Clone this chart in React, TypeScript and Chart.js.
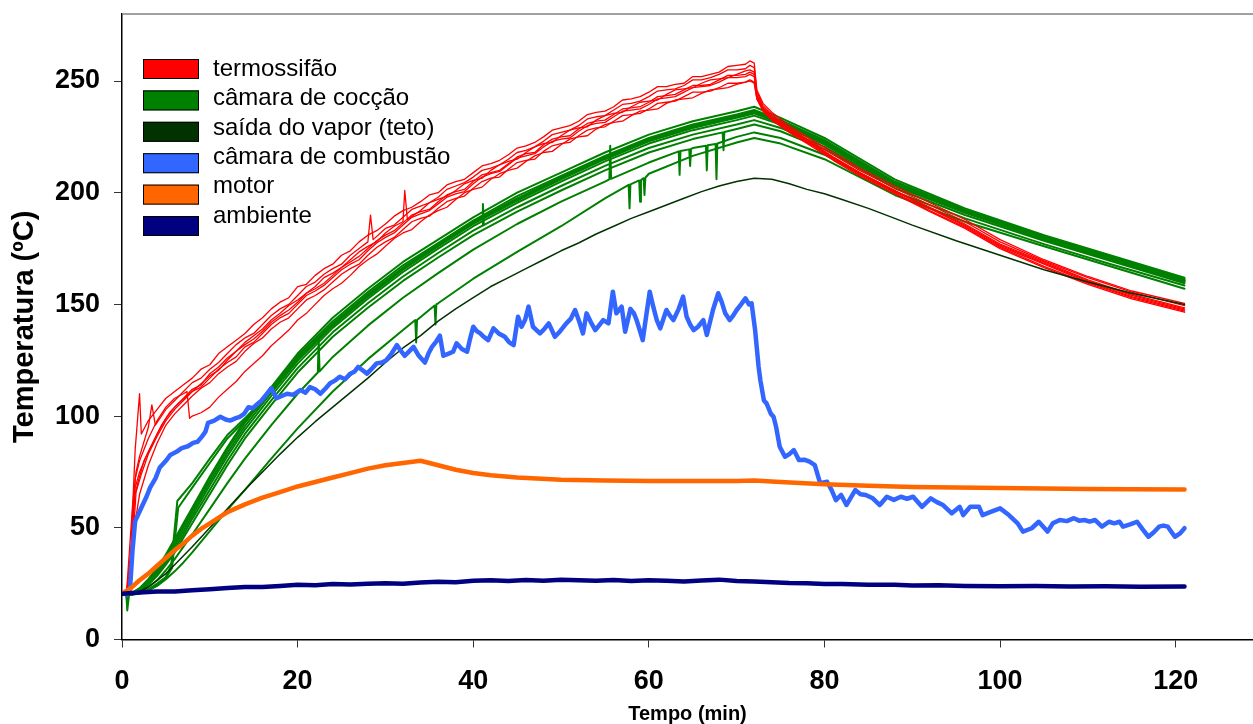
import React, { useEffect, useRef } from "react";
import { Chart, registerables } from "chart.js";

Chart.register(...registerables);

type P = [number, number];

// ---------- axis ticks & labels ----------
const X_TICKS = [0, 20, 40, 60, 80, 100, 120];
const Y_TICKS = [0, 50, 100, 150, 200, 250];
const X_TITLE = "Tempo (min)";
const Y_TITLE = "Temperatura (ºC)";

const LEGEND_LABELS = [
  "termossifão",
  "câmara de cocção",
  "saída do vapor (teto)",
  "câmara de combustão",
  "motor",
  "ambiente",
];
const LEGEND_COLORS = ["#FF0000", "#008000", "#003300", "#3366FF", "#FF6600", "#000080"];

// ---------- termossifão (red) ----------
const TERMO_1: P[] = [[0.5,20],[1,40],[1.5,85],[2,110],[2.2,92],[3,98],[4,103],[5,108],[6,111],[7,114],[8,117],[9,121],[10,123],[11,128],[12,131],[13,134],[14,137],[15,141],[16,144],[17,148],[18,151],[19,153],[20,158],[21,159],[22,163],[23,166],[24,168],[25,172],[26,174],[27,178],[28,181],[29,183],[30,186],[31,189.5],[32,192],[33,193.5],[34,196],[35,199],[36,200],[37,203.5],[38,205],[39,206],[40,209],[41,212],[42,213],[43,214.5],[44,217],[45,220],[46,221],[47,222.5],[48,225],[49,228],[50,229],[51,230],[52,232],[53,235],[54,236],[55,236.5],[56,238.5],[57,241.5],[58,242],[59,243],[60,245],[61,247.5],[62,247.5],[63,248.5],[64,249],[65,252],[66,252],[67,253],[68,254],[69,256.5],[70,257],[71,257.5],[71.5,259],[72,258],[72.3,246],[73,240],[74,236],[76,230],[78,225],[81,218],[84,211],[88,203],[92,195.5],[96,188],[100,179],[105,170],[110,162.5],[115,156],[121,150.5]];
const TERMO_2: P[] = [[0.5,20],[1.2,60],[1.6,75],[2,82],[3,95],[3.4,105],[3.8,96],[5,103],[6,107],[7,111],[8,115],[9,117],[10,121],[11,124],[12,128],[13,132],[14,135],[15,137],[16,141],[17,145],[18,148],[19,150],[20,154],[21,158],[22,160],[23,163.5],[24,166],[25,168],[26,172],[27,175],[28,178],[28.3,190],[28.6,179],[30,184],[31,185.5],[32,189],[33,192.5],[34,194],[35,195.5],[36,198],[37,201.5],[38,203],[39,204.5],[40,207],[41,210],[42,211],[43,212.5],[44,215],[45,218],[46,219],[47,220.5],[48,223],[49,226],[50,227],[51,228],[52,230],[53,233],[54,234],[55,234.5],[56,237],[57,239.5],[58,240],[59,241],[60,243],[61,245.5],[62,246],[63,246.5],[64,248],[65,250.5],[66,250.5],[67,251.5],[68,253],[69,255],[70,255],[71,255.5],[71.5,257],[72,256],[72.3,245],[73,239],[74,235],[76,229],[78,224],[81,217],[84,210],[88,202],[92,194.5],[96,187],[100,178],[105,169.5],[110,162],[115,155.5],[121,149.5]];
const TERMO_3: P[] = [[0.5,20],[1,30],[1.5,68],[2,75],[3,84],[4,92],[5,99],[6,104],[7,108],[8,112],[9,114],[10,119],[11,122],[12,126],[13,129],[14,133],[15,136],[16,139],[17,143],[18,146],[19,149.5],[20,152],[21,155],[22,158],[23,162],[24,164],[25,166.5],[26,170],[27,173.5],[28,176],[29,178],[30,182],[31,185],[32,187],[32.2,201],[32.5,188],[34,192],[35,195.5],[36,197],[37,198.5],[38,201],[39,204],[40,205.5],[41,206.5],[42,210],[43,212.5],[44,214],[45,215],[46,218],[47,220.5],[48,222],[49,222.5],[50,225.5],[51,228],[52,229],[53,229.5],[54,232.5],[55,234.5],[56,235.5],[57,236],[58,238.5],[59,240.5],[60,241],[61,241.5],[62,244],[63,246],[64,246.5],[65,247],[66,249],[67,250.5],[68,251],[69,251.5],[70,253],[71,254.5],[71.5,255],[72,254],[72.3,244],[73,238],[74,234],[76,228.5],[78,223.5],[81,216],[84,209],[88,201],[92,193.5],[96,186],[100,177],[105,169],[110,161],[115,154.5],[121,148.5]];
const TERMO_4: P[] = [[0.5,20],[1,25],[1.3,62],[1.8,70],[2.5,80],[3.5,88],[4.5,96],[5.5,102],[6.5,106],[8,111],[9,113],[10,117],[11,121],[12,124],[13,126.5],[14,131],[15,133],[16,137],[17,141],[18,144],[19,146],[20,150],[21,154],[22,156],[23,158.5],[24,162],[25,165.5],[26,168],[27,170],[28,174],[29,177.5],[30,180],[31,182],[32,185.5],[33,189],[34,190.5],[35,192],[36,195],[37,198],[38,199.5],[39,200.5],[40,204],[41,207],[42,208.5],[43,209.5],[44,212.5],[45,215.5],[46,216.5],[47,217.5],[48,220.5],[49,223],[50,224],[51,224.5],[52,227.5],[53,230],[54,231],[55,231.5],[56,234],[57,236.5],[58,237],[59,237.5],[60,239.5],[61,242],[62,242.5],[63,243],[64,245],[65,247],[66,247.5],[67,248],[68,249.5],[69,251.5],[70,251.5],[71,252],[71.5,253],[72,252],[72.3,243],[73,237.5],[74,233.5],[76,228],[78,223],[81,215.5],[84,208.5],[88,200.5],[92,193],[96,185],[100,176],[105,168],[110,160],[115,153.5],[121,147.5]];
const TERMO_5: P[] = [[0.5,20],[1,22],[1.4,50],[2,65],[3,78],[4,88],[5,96],[6,101],[7,105],[8,109],[9,112.5],[10,115],[11,119],[12,122],[13,124.5],[14,129],[15,132.5],[16,135],[17,139],[18,142],[19,144],[20,148],[21,152],[22,154],[23,156.5],[24,160],[25,163.5],[26,166],[27,168],[28,172],[29,175.5],[30,178],[31,180],[32,183.5],[33,187],[34,188.5],[35,189.5],[36,193],[37,196],[38,197.5],[39,198.5],[40,202],[41,205],[42,206.5],[43,207],[44,210.5],[45,213.5],[46,214.5],[47,215],[48,218.5],[49,221],[50,222],[51,222.5],[52,225.5],[53,228],[54,229],[55,229.5],[56,232],[57,234.5],[58,235],[59,235.5],[60,237.5],[61,240],[62,240.5],[63,241],[64,243],[65,245],[66,245],[67,245.5],[68,247],[69,249],[70,249],[71,249.5],[71.5,250.5],[72,249.5],[72.3,242],[73,237],[74,233],[76,227.5],[78,222.5],[81,215],[84,208],[88,200],[92,192],[96,184.5],[100,175.5],[105,167],[110,159.5],[115,153],[121,147]];
const TERMO_6: P[] = [[0.5,20],[1,35],[1.5,72],[2,80],[3,90],[4,98],[5,104],[6,108],[7,110],[7.4,111],[7.7,99],[8,100],[9,101.5],[10,104],[11,108.5],[12,112],[13,115.5],[14,120],[15,123.5],[16,127],[17,131.5],[18,135],[19,138.5],[20,143],[21,146],[22,150],[23,154],[24,157],[25,159.5],[26,163],[27,167],[28,170],[29,172.5],[30,176],[31,179.5],[32,182],[33,183.5],[34,187],[35,190],[36,192],[37,193.5],[38,197],[39,200],[40,201.5],[41,202.5],[42,206],[43,208.5],[44,210],[45,211],[46,214],[47,216.5],[48,218],[49,218.5],[50,221.5],[51,224],[52,225],[53,225.5],[54,228.5],[55,230.5],[56,231.5],[57,232],[58,234.5],[59,236.5],[60,237],[61,237.5],[62,240],[63,241.5],[64,242],[65,242.5],[66,244.5],[67,246],[68,246.5],[69,247],[70,248.5],[71,249.5],[71.5,250],[72,249],[72.3,242],[73,236.5],[74,232.5],[76,227],[78,222],[81,214.5],[84,207.5],[88,199.5],[92,191.5],[96,184],[100,175],[105,166.5],[110,159],[115,152.5],[121,146.5]];
const TERMO_7: P[] = [[0.5,20],[1,28],[1.6,66],[2.2,74],[3,83],[4,91],[5,98],[6,103],[7,107],[8,111],[9,114.5],[10,118],[11,120.5],[12,125],[13,129],[14,132],[15,134.5],[16,138],[17,142],[18,145],[19,147.5],[20,151],[21,155],[22,157],[23,159.5],[24,163],[25,166.5],[26,169],[27,171.5],[28,175],[29,178.5],[30,181],[31,183],[32,186.5],[33,190],[34,191.5],[35,192.5],[36,196],[37,199],[38,200.5],[39,201.5],[40,205],[41,208],[42,209],[43,210],[44,213],[45,216],[46,217.5],[47,218],[48,221.5],[49,224],[50,225],[51,225.5],[52,228.5],[53,231],[54,232],[55,232.5],[56,235],[57,237.5],[58,238],[59,238.5],[60,240.5],[61,243],[62,243.5],[63,244],[64,246],[65,248],[66,248],[67,248.5],[68,250.5],[69,252.5],[70,252.5],[71,253],[71.5,254],[72,253],[72.3,243.5],[73,238],[74,234],[76,228.5],[78,223.5],[81,216],[84,209],[88,201],[92,193],[96,185.5],[100,176.5],[105,168.5],[110,160.5],[115,154],[121,148]];

// ---------- câmara de cocção (green) ----------
const GREEN_T = [0.5,1,2,3,4,5,6,7,8,10,12,14,17,20,24,28,32,36,40,45,50,55,60,65,70,72,75,80,88,96,105,113,121];
const COCCAO_1 = [20,20.5,23,27,32,38,45,52,59,73,86,98,113,128,144,157,169,179,189,200,209,218,226,232,236.5,238.5,233.5,224.5,206,193,181,171.5,162];
const COCCAO_2 = [20,20.5,22.8,26.5,31.5,37.5,44,51,58,72,85,97,112,127,142.5,155.5,167.5,177.5,187.5,198.5,207.5,216.5,224.5,230.5,235,237,232.5,223.5,205,192.5,180.5,171,161.5];
const COCCAO_3 = [20,20.3,22.5,26,31,36.5,43,50,57,70.5,83.5,95.5,110.5,125,141,154,166,176.5,186.5,197,206.5,215.5,223.5,229.5,234,236,231.5,222.5,204.5,192,180,170.5,161];
const COCCAO_4 = [20,20.2,22,25.5,30,35.5,42,48.5,55.5,69,82,94,109,123.5,139.5,152.5,164.5,175,185,195.5,205,214,222,228,232.5,234.5,230.5,221.5,203.5,191.5,179.5,170,160.5];
const COCCAO_5 = [20,20,21.6,25,29,34.5,40.5,47,54,67,80,92,107,121.5,137.5,150.5,162.5,173,183,193.5,203,212,220,226,230.5,232.5,229,220.5,203,191,179,169.5,160];
const COCCAO_6 = [20,20,21.3,24.5,28.5,33.5,39,45.5,52,65,78,90,105,119.5,135.5,148.5,160.5,171,181,191.5,201,210,218,224,228.5,230.5,227.5,219.5,202,190,178.5,169,159.5];
const COCCAO_9 = [20,20,21,23.5,26.5,31,36,41.5,47,58.5,70,81,96,110,126.5,140.5,153,164,174.5,186,196,205,213.5,220,225,227,224.5,217,200.5,188.5,177,167.5,158.5];
const COCCAO_10 = [20,20,20.5,22,24,27,30.5,34.5,39,48.5,58,67,81,94.5,111,125.5,138.5,150.5,161.5,173.5,185,197.5,208.5,216.5,222.5,224.5,222,215,199,187,176,166.5,157];
const COCCAO_7: P[] = [[0.5,20],[1,20],[2,21],[3,22.5],[4,25],[5,28],[5.6,33],[6.3,62],[8,70],[10,81],[12,91.5],[14,99],[17,111.5],[20,126],[24,141.5],[28,154.5],[32,166.5],[36,177],[40,187],[45,197.5],[50,207],[55,216],[60,224],[65,230],[70,234.5],[72,236.5],[75,232],[80,223],[88,204.5],[96,192],[105,180],[113,170.5],[121,161]];
const COCCAO_8: P[] = [[0.5,20],[1,20],[2,21],[3,22],[4,24.5],[5,27.5],[5.7,32],[6.4,59],[8,68],[10,79],[12,90],[14,98],[17,110.5],[20,125],[24,140.5],[28,153.5],[32,165.5],[36,176],[40,186],[45,196.5],[50,206],[55,215],[60,223],[65,229],[70,233.5],[72,235.5],[75,231],[80,222],[88,204],[96,191.5],[105,179.5],[113,170],[121,160.5]];
// spikes in the green sensor records
const SPIKES_5: P[] = [[41,185.2],[41.1,195],[41.2,185.5]];
const SPIKES_6: P[] = [[68.4,227],[68.5,219],[68.6,227.2]];
const SPIKES_9: P[] = [[0.6,16],[0.7,20],[22.3,119.5],[22.4,134],[22.5,120],[55.5,206],[55.6,221],[55.7,206.2],[63.4,218.5],[63.5,208],[63.6,218.7],[64.6,219.4],[64.7,212],[64.8,219.6],[66.5,221],[66.6,210],[66.7,221.2],[67.6,221.8],[67.7,206],[67.8,222]];
const SPIKES_10: P[] = [[0.6,13],[0.8,20],[33.4,143],[33.5,133],[33.6,143],[35.6,149.5],[35.7,141],[35.8,150],[57.7,203.5],[57.8,193],[57.9,203.7],[58.9,205.5],[59,196],[59.1,205.7],[59.4,206.5],[59.5,199],[59.6,206.7]];

// ---------- saída do vapor (teto) ----------
const VAPOR: P[] = [[0,20],[1,20.5],[2,21.5],[3,23.5],[4,26.5],[5,29.5],[6,33.5],[8,41.5],[10,50],[12,58.5],[14,67],[16,75],[18,83],[20,90.5],[22,97.5],[24,104],[26,110.5],[28,117],[30,124],[32,130.5],[34,136],[36,142.5],[38,148],[40,153],[42,158],[44,162],[46,166],[48,170],[50,174],[52,177.5],[54,181.5],[56,185],[58,188.5],[60,191.5],[62,194.5],[64,197.5],[66,200.5],[68,203],[70,205],[72,206.5],[74,206],[76,204],[78,201.5],[80,199.5],[82,197],[85,193],[88,188.5],[90,185.5],[95,178.5],[100,172],[105,165.5],[110,160],[115,155],[121,150]];

// ---------- câmara de combustão ----------
const COMBUSTAO: P[] = [[0.5,20],[0.9,22],[1.2,40],[1.5,53],[2.2,59],[2.8,64],[3.2,68],[3.8,72],[4.3,77],[5,80],[5.5,82.6],[6.2,84],[6.8,85.7],[7.5,86.5],[8.1,88],[8.6,88.5],[9.1,90.8],[9.5,93],[9.8,97],[10.5,98],[11.2,99.7],[11.8,98.5],[12.3,98],[12.9,99],[13.4,99.7],[13.9,101],[14.4,104],[14.9,103.5],[15.3,105],[15.9,107],[16.5,110],[17,112.5],[17.6,108],[18.2,109],[18.8,110],[19.5,109.5],[20.3,111.7],[20.9,110.5],[21.4,113],[22,112],[22.6,110],[23.2,112.5],[23.7,114.7],[24.3,116],[24.8,117.6],[25.4,116.5],[26,119],[26.5,120],[26.9,122],[27.4,120.5],[27.9,119],[28.4,121],[29,123.6],[29.6,124],[30.1,125],[30.7,128],[31.3,131.8],[31.7,129.5],[32.2,127],[32.7,129],[33.2,131],[33.8,127],[34.5,124],[34.9,128],[35.3,131],[35.8,133.5],[36.2,136],[36.6,127],[37.2,128],[37.7,128.8],[38.1,132.6],[38.7,130],[39.3,128.8],[39.6,134],[40,140],[40.4,138],[40.8,137],[41.2,135.5],[41.7,134],[42.3,139.3],[42.9,137],[43.6,135.5],[44.1,133],[44.6,131.8],[45.1,144.5],[45.5,140],[45.9,143],[46.3,149],[46.8,140],[47.2,138.5],[47.6,137],[48.1,139],[48.6,141.5],[49.3,135.5],[49.9,138],[50.6,141.5],[51.1,143.5],[51.6,147.5],[52.1,142],[52.5,137],[52.9,146],[53.4,142],[53.9,138.5],[54.4,141],[54.8,143],[55.4,141.5],[55.9,155.7],[56.3,146],[56.9,149],[57.3,137.8],[57.9,148],[58.3,146],[58.6,143],[59,138],[59.3,134],[59.7,145],[60.1,155.7],[60.5,149],[60.9,143],[61.3,139.3],[61.7,144],[62,147.5],[62.4,145],[62.8,143],[63.4,148],[63.9,153.5],[64.3,144.5],[64.7,141],[65.1,138.5],[65.6,140],[66.2,143],[66.6,136.3],[67.3,147.5],[67.9,155],[68.3,151],[68.7,146],[69.2,143],[69.6,145],[70,147.5],[70.5,150],[71,152.7],[71.4,150],[71.7,150.5],[72.1,138.5],[72.5,122],[72.7,116],[73.1,107],[73.4,105.7],[73.9,101],[74.2,99.7],[74.5,95],[74.9,86.3],[75.5,81.8],[76,83],[76.5,84.8],[77.1,80.3],[77.7,80.5],[78.3,79.6],[78.9,78.1],[79.5,70],[80.3,70.6],[80.8,67],[81.3,62.4],[81.9,64.7],[82.5,60.2],[83.5,66.9],[84.1,65],[84.7,64.7],[85.5,63.2],[86.3,60.2],[87.1,63.9],[87.9,62.5],[88.7,63.9],[89.4,63],[90.1,63.9],[91.1,59.4],[92.1,63.2],[92.8,61.5],[93.5,60.2],[94.5,56.5],[95.4,59.4],[95.8,55.7],[96.6,59.4],[97.6,59.4],[98,55.7],[99,57.2],[100,58.7],[101,55.7],[102,52],[102.6,48.3],[103.6,49.8],[104.4,52.7],[105.4,48.3],[106,52],[106.8,53.5],[107.6,53],[108.4,54.3],[109,53.2],[109.6,53.5],[110.2,52.8],[110.8,53.5],[111.6,50.5],[112.4,52.7],[113,52],[113.6,52.7],[114,50.5],[114.8,51.5],[115.6,52.7],[116.3,49],[116.9,46],[117.5,48],[118.1,50.5],[118.6,51],[119.1,50.5],[119.9,46],[120.5,47.5],[121,49.8]];

// ---------- motor ----------
const MOTOR: P[] = [[0,20.5],[1,23],[2,26.5],[3,29.5],[4,33],[5,36.5],[6,40],[7,43],[8,46.5],[9,49.5],[10,52],[12,57],[14,60.5],[16,63.5],[18,66],[20,68.5],[22,70.5],[24,72.5],[26,74.5],[28,76.5],[30,78],[32,79],[34,80],[35,79],[36,78],[38,76],[40,74.5],[42,73.5],[45,72.5],[50,71.5],[55,71.2],[60,71],[65,71],[70,71],[72,71.2],[75,70.5],[80,69.5],[85,68.8],[90,68.3],[95,68],[100,67.8],[105,67.6],[110,67.4],[115,67.3],[121,67.2]];

// ---------- ambiente ----------
const AMBIENTE: P[] = [[0,20.5],[2,21],[4,21.5],[6,21.5],[8,22],[10,22.5],[12,23],[14,23.5],[16,23.5],[18,24],[20,24.5],[22,24.3],[24,24.8],[26,24.6],[28,25],[30,25.2],[32,25],[34,25.5],[36,25.8],[38,25.6],[40,26.3],[42,26.5],[44,26.2],[46,26.6],[48,26.3],[50,26.8],[52,26.5],[54,26.3],[56,26.6],[58,26.2],[60,26.5],[62,26.3],[64,26],[66,26.4],[68,26.8],[70,26.2],[72,26],[74,25.6],[76,25.3],[78,25.2],[80,24.8],[82,24.8],[85,24.5],[88,24.5],[90,24.2],[93,24.3],[96,24],[100,23.8],[104,23.9],[108,23.7],[112,23.8],[116,23.6],[121,23.7]];

const FONT = '"Liberation Sans", Arial, Helvetica, sans-serif';

const zip = (t: number[], v: number[]): P[] => t.map((x, i) => [x, v[i]] as P);
const merge = (a: P[], b: P[]): P[] => [...a, ...b].sort((p, q) => p[0] - q[0]);
const pts = (a: P[]) => a.map(([x, y]) => ({ x, y }));

export default function App() {
  const ref = useRef<HTMLCanvasElement | null>(null);

  useEffect(() => {
    if (!ref.current) return;

    const line = (data: P[], color: string, width: number, order: number) => ({
      data: pts(data),
      borderColor: color,
      backgroundColor: color,
      borderWidth: width,
      pointRadius: 0,
      tension: 0,
      fill: false,
      order,
      borderJoinStyle: "round" as const,
      borderCapStyle: "round" as const,
    });

    const termo = [TERMO_1, TERMO_2, TERMO_3, TERMO_4, TERMO_5, TERMO_6, TERMO_7];
    const green: P[][] = [
      zip(GREEN_T, COCCAO_1),
      zip(GREEN_T, COCCAO_2),
      zip(GREEN_T, COCCAO_3),
      zip(GREEN_T, COCCAO_4),
      merge(zip(GREEN_T, COCCAO_5), SPIKES_5),
      merge(zip(GREEN_T, COCCAO_6), SPIKES_6),
      COCCAO_7,
      COCCAO_8,
      merge(zip(GREEN_T, COCCAO_9), SPIKES_9),
      merge(zip(GREEN_T, COCCAO_10), SPIKES_10),
    ];

    const datasets: any[] = [
      line(AMBIENTE, LEGEND_COLORS[5], 4.5, 0),
      line(MOTOR, LEGEND_COLORS[4], 4.5, 1),
      line(COMBUSTAO, LEGEND_COLORS[3], 4.5, 2),
      line(VAPOR, LEGEND_COLORS[2], 1.5, 3),
      ...termo.map((d) => line(d, LEGEND_COLORS[0], 1.3, 4)),
      ...green.map((d) => line(d, LEGEND_COLORS[1], 2, 5)),
    ];

    const decor = {
      id: "decor",
      afterDatasetsDraw(chart: any) {
        const ctx = chart.ctx as CanvasRenderingContext2D;
        const area = chart.chartArea;
        ctx.save();
        // top frame line
        ctx.strokeStyle = "#808080";
        ctx.lineWidth = 1.5;
        ctx.beginPath();
        ctx.moveTo(area.left, area.top);
        ctx.lineTo(chart.width, area.top);
        ctx.stroke();
        // legend
        LEGEND_LABELS.forEach((label, i) => {
          const bx = area.left + 21;
          const by = area.top + 45 + 31.4 * i;
          ctx.fillStyle = LEGEND_COLORS[i];
          ctx.fillRect(bx, by, 56, 20);
          ctx.strokeStyle = "#000";
          ctx.lineWidth = 1;
          ctx.strokeRect(bx + 0.5, by + 0.5, 55, 19);
          ctx.fillStyle = "#000";
          ctx.font = `24px ${FONT}`;
          ctx.textBaseline = "alphabetic";
          ctx.textAlign = "left";
          ctx.fillText(label, area.left + 91, area.top + 62 + 29.35 * i);
        });
        ctx.restore();
      },
    };

    const zeroPad = (s: any) => {
      s.paddingTop = 0;
      s.paddingBottom = 0;
      s.paddingLeft = 0;
      s.paddingRight = 0;
    };

    const chart = new Chart(ref.current, {
      type: "line",
      data: { datasets },
      plugins: [decor],
      options: {
        animation: false,
        responsive: false,
        devicePixelRatio: 1,
        layout: { padding: { top: 14, left: 0, right: 0, bottom: 0 } },
        plugins: { legend: { display: false }, tooltip: { enabled: false } },
        scales: {
          x: {
            type: "linear",
            min: 0,
            max: 128.8,
            afterBuildTicks: (s: any) => {
              s.ticks = X_TICKS.map((value) => ({ value }));
            },
            afterFit: (s: any) => {
              s.height = 84.5;
              zeroPad(s);
            },
            ticks: { color: "#000", font: { family: FONT, size: 27, weight: "bold" }, padding: 18, maxRotation: 0 },
            grid: { drawOnChartArea: false, drawTicks: true, tickLength: 8, color: "#333", lineWidth: 1 },
            border: { display: true, color: "#000", width: 1.5 },
            title: {
              display: true,
              text: X_TITLE,
              color: "#000",
              font: { family: FONT, size: 20, weight: "bold", lineHeight: 1 },
              padding: { top: 0, bottom: 0 },
            },
          },
          y: {
            type: "linear",
            min: 0,
            max: 280,
            afterBuildTicks: (s: any) => {
              s.ticks = Y_TICKS.map((value) => ({ value }));
            },
            afterFit: (s: any) => {
              s.width = 122;
              zeroPad(s);
            },
            ticks: { color: "#000", font: { family: FONT, size: 27, weight: "bold" }, padding: 14 },
            grid: { drawOnChartArea: false, drawTicks: true, tickLength: 8, color: "#333", lineWidth: 1 },
            border: { display: true, color: "#000", width: 1.5 },
            title: {
              display: true,
              text: Y_TITLE,
              color: "#000",
              font: { family: FONT, size: 29, weight: "bold", lineHeight: 1.2 },
              padding: { top: 8, bottom: 0 },
            },
          },
        },
      },
    } as any);

    return () => chart.destroy();
  }, []);

  return (
    <div style={{ position: "fixed", left: 0, top: 0, width: 1253, height: 724, background: "#fff" }}>
      <canvas ref={ref} width={1253} height={724} style={{ display: "block", width: 1253, height: 724 }} />
    </div>
  );
}
